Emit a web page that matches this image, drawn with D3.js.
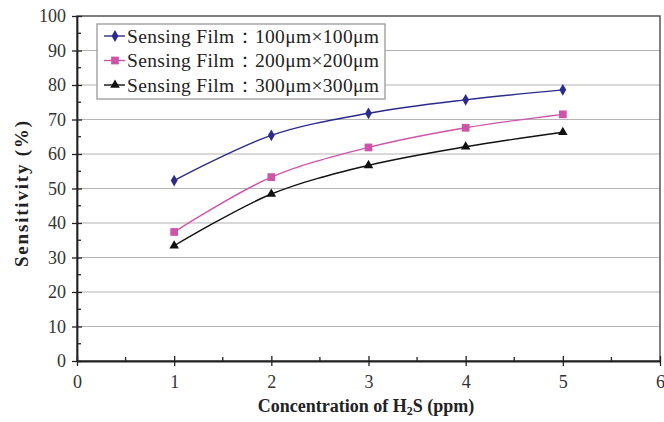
<!DOCTYPE html>
<html>
<head>
<meta charset="utf-8">
<script src="https://cdn.jsdelivr.net/npm/d3@7"></script>
<style>
  body { margin: 0; background: #fff; }
  svg text { font-family: "Liberation Serif", "Times New Roman", Tinos, "DejaVu Serif", serif; }
</style>
</head>
<body>
<script>
var concentrations = [1, 2, 3, 4, 5];
var film100 = [52.3, 65.4, 71.8, 75.7, 78.6];
var film200 = [37.4, 53.3, 61.9, 67.6, 71.5];
var film300 = [33.4, 48.4, 56.7, 62.1, 66.3];
var seriesNames = ["Sensing Film\uFF1A100\u03BCm\u00D7100\u03BCm",
                   "Sensing Film\uFF1A200\u03BCm\u00D7200\u03BCm",
                   "Sensing Film\uFF1A300\u03BCm\u00D7300\u03BCm"];
var xTicks = [0, 1, 2, 3, 4, 5, 6];
var yTicks = [0, 10, 20, 30, 40, 50, 60, 70, 80, 90, 100];

var serif = "'Liberation Serif', 'Times New Roman', Tinos, 'DejaVu Serif', serif";

var margin = {top: 16, right: 4, bottom: 61, left: 77};

var svg = d3.select("body")
            .append("svg")
            .attr("width", 664)
            .attr("height", 422);

var g = svg.append("g")
           .attr("transform", "translate(" + margin.left + "," + margin.top + ")");

var xScale = d3.scaleLinear().domain([0, 6]).range([0, 583]);
var yScale = d3.scaleLinear().domain([0, 100]).range([345, 0]);

// gridlines
g.selectAll(".grid")
 .data(yTicks.slice(1, -1))
 .enter()
 .append("line")
 .attr("x1", 0)
 .attr("x2", xScale(6))
 .attr("y1", function(d){ return yScale(d); })
 .attr("y2", function(d){ return yScale(d); })
 .attr("stroke", "#b4b4b4")
 .attr("stroke-width", 1.2);

// frame
g.append("rect")
 .attr("x", 0).attr("y", 0)
 .attr("width", xScale(6)).attr("height", yScale(0))
 .attr("fill", "none")
 .attr("stroke", "#555")
 .attr("stroke-width", 1.5);

// minor ticks
var yMinor = d3.range(5, 100, 10);
g.selectAll(".yminor")
 .data(yMinor).enter().append("line")
 .attr("x1", 0).attr("x2", 4)
 .attr("y1", function(d){ return yScale(d); })
 .attr("y2", function(d){ return yScale(d); })
 .attr("stroke", "#222").attr("stroke-width", 1.3);

var xMinor = [0.5, 1.5, 2.5, 3.5, 4.5, 5.5];
g.selectAll(".xminor")
 .data(xMinor).enter().append("line")
 .attr("x1", function(d){ return xScale(d); })
 .attr("x2", function(d){ return xScale(d); })
 .attr("y1", yScale(0)).attr("y2", yScale(0) - 4)
 .attr("stroke", "#222").attr("stroke-width", 1.3);

// axes
var xAxis = g.append("g")
  .attr("transform", "translate(0," + yScale(0) + ")")
  .call(d3.axisBottom(xScale).tickValues(xTicks).tickFormat(d3.format("d"))
          .tickSizeInner(5).tickSizeOuter(0).tickPadding(9));

xAxis.selectAll(".tick line").attr("y1", -5).attr("stroke", "#222").attr("stroke-width", 1.3);

var yAxis = g.append("g")
  .call(d3.axisLeft(yScale).tickValues(yTicks).tickFormat(d3.format("d"))
          .tickSizeInner(5).tickSizeOuter(0).tickPadding(6));

yAxis.selectAll(".tick line").attr("x1", 5).attr("x2", -5).attr("stroke", "#222").attr("stroke-width", 1.3);

[xAxis, yAxis].forEach(function(a){
  a.attr("font-family", serif);
  a.select(".domain").attr("stroke", "#222").attr("stroke-width", 1.8);
  a.selectAll(".tick text")
   .attr("font-size", 18)
   .attr("fill", "#333");
});

// series
var series = [
  {name: seriesNames[0], values: film100, color: "#2b2b8c", shape: d3.symbolDiamond, size: 40},
  {name: seriesNames[1], values: film200, color: "#cc55aa", shape: d3.symbolSquare, size: 60},
  {name: seriesNames[2], values: film300, color: "#111111", shape: d3.symbolTriangle, size: 40}
];

var line = d3.line()
  .x(function(d, i){ return xScale(concentrations[i]); })
  .y(function(d){ return yScale(d); })
  .curve(d3.curveCatmullRom.alpha(0.5));

series.forEach(function(s){
  g.append("path")
   .datum(s.values)
   .attr("d", line)
   .attr("fill", "none")
   .attr("stroke", s.color)
   .attr("stroke-width", 1.4);

  g.selectAll(null)
   .data(s.values)
   .enter()
   .append("path")
   .attr("d", d3.symbol().type(s.shape).size(s.size))
   .attr("transform", function(d, i){
     return "translate(" + xScale(concentrations[i]) + "," + yScale(d) + ")";
   })
   .attr("fill", s.color);
});

// legend
var legend = svg.append("g").attr("transform", "translate(97,24)");

legend.append("rect")
      .attr("width", 288)
      .attr("height", 75)
      .attr("fill", "#fff")
      .attr("stroke", "#999")
      .attr("stroke-width", 1.3);

series.forEach(function(s, i){
  var y = 12 + i * 24.5;
  legend.append("line")
        .attr("x1", 7).attr("x2", 28)
        .attr("y1", y).attr("y2", y)
        .attr("stroke", s.color).attr("stroke-width", 1.4);
  legend.append("path")
        .attr("d", d3.symbol().type(s.shape).size(s.size))
        .attr("transform", "translate(18," + y + ")")
        .attr("fill", s.color);
  legend.append("text")
        .attr("x", 30)
        .attr("y", y + 6.5)
        .attr("font-family", serif)
        .attr("font-size", 19.5)
        .attr("textLength", 252)
        .attr("lengthAdjust", "spacing")
        .attr("fill", "#222")
        .text(s.name);
});

// axis titles
svg.append("text")
   .attr("x", 366)
   .attr("y", 412)
   .attr("text-anchor", "middle")
   .attr("font-family", serif)
   .attr("font-size", 18)
   .attr("font-weight", "bold")
   .attr("fill", "#222")
   .html("Concentration of H<tspan dy='3' font-size='12'>2</tspan><tspan dy='-3'>S (ppm)</tspan>");

svg.append("text")
   .attr("transform", "translate(28,194) rotate(-90)")
   .attr("text-anchor", "middle")
   .attr("font-family", serif)
   .attr("font-size", 19)
   .attr("font-weight", "bold")
   .attr("textLength", 146)
   .attr("lengthAdjust", "spacing")
   .attr("fill", "#222")
   .text("Sensitivity (%)");
</script>
</body>
</html>
